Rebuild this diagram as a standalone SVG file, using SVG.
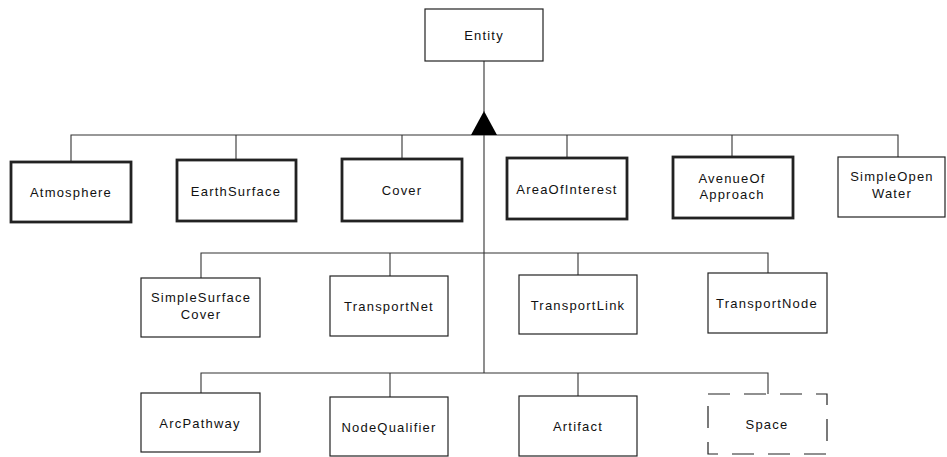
<svg xmlns="http://www.w3.org/2000/svg" width="947" height="457" viewBox="0 0 947 457">
<style>
.box{fill:#fff;stroke:#222;stroke-width:1.2}
.thick{stroke-width:2.8}
.dash{stroke-dasharray:22,14}
.ln{fill:none;stroke:#333;stroke-width:1.1}
text{font-family:"Liberation Sans",Arial,sans-serif;font-size:13px;letter-spacing:1.2px;fill:#111;text-anchor:middle}
</style>
<rect width="947" height="457" fill="#fff"/>
<g id="connectors">
<path class="ln" d="M484,61V112M484,135V373"/>
<path class="ln" d="M71,162V135H898V157M236,160V135M402,159V135M567,158V135M732,157V135"/>
<path class="ln" d="M201,278V253H768V273M390,276V253M578,275V253"/>
<path class="ln" d="M201,393V373H768V394M390,397V373M578,396V373"/>
<polygon points="484,111 497,135 471,135" fill="#000"/>
</g>
<g id="entity"><rect class="box" x="425" y="9" width="118" height="52"/><text x="484" y="40">Entity</text></g>
<g id="atmosphere"><rect class="box thick" x="11" y="162" width="120" height="60"/><text x="71" y="197">Atmosphere</text></g>
<g id="earthsurface"><rect class="box thick" x="177" y="160" width="119" height="61"/><text x="236" y="196">EarthSurface</text></g>
<g id="cover"><rect class="box thick" x="342" y="159" width="120" height="62"/><text x="402" y="195">Cover</text></g>
<g id="areaofinterest"><rect class="box thick" x="507" y="158" width="120" height="61"/><text x="567" y="194">AreaOfInterest</text></g>
<g id="avenueofapproach"><rect class="box thick" x="673" y="157" width="120" height="61"/><text x="732" y="183">AvenueOf</text><text x="732" y="199">Approach</text></g>
<g id="simpleopenwater"><rect class="box" x="838" y="157" width="107" height="60"/><text x="892" y="181">SimpleOpen</text><text x="892" y="198">Water</text></g>
<g id="simplesurfacecover"><rect class="box" x="141" y="278" width="119" height="59"/><text x="201" y="302">SimpleSurface</text><text x="201" y="319">Cover</text></g>
<g id="transportnet"><rect class="box" x="330" y="276" width="118" height="60"/><text x="389" y="311">TransportNet</text></g>
<g id="transportlink"><rect class="box" x="519" y="275" width="118" height="59"/><text x="578" y="310">TransportLink</text></g>
<g id="transportnode"><rect class="box" x="708" y="273" width="119" height="60"/><text x="767" y="308">TransportNode</text></g>
<g id="arcpathway"><rect class="box" x="141" y="393" width="119" height="59"/><text x="200" y="428">ArcPathway</text></g>
<g id="nodequalifier"><rect class="box" x="330" y="397" width="118" height="59"/><text x="389" y="432">NodeQualifier</text></g>
<g id="artifact"><rect class="box" x="519" y="396" width="118" height="60"/><text x="578" y="431">Artifact</text></g>
<g id="space"><rect class="box dash" x="708" y="394" width="119" height="60"/><text x="767" y="429">Space</text></g>
</svg>
